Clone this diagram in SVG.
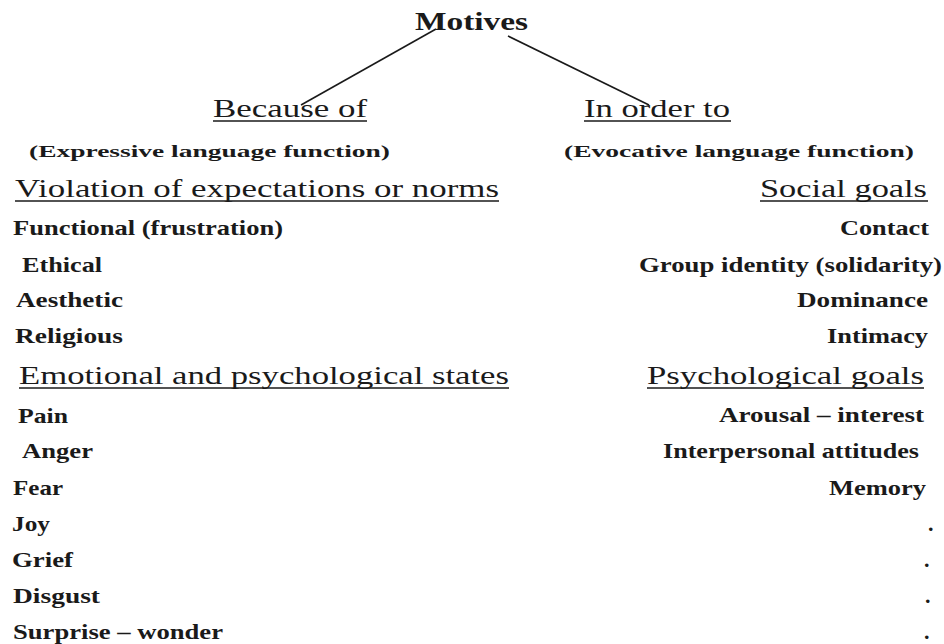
<svg xmlns="http://www.w3.org/2000/svg" width="944" height="644" viewBox="0 0 944 644">
<style>
text{font-family:"Liberation Serif","Times New Roman",serif;fill:#1a1a1a}
.t{font-size:26px}
.m{font-size:26px;font-weight:bold}
.h{font-size:26px}
.s{font-size:17px;font-weight:bold}
.i{font-size:22px;font-weight:bold}
.u{stroke:#1a1a1a;stroke-width:1.5}
.c{stroke:#1a1a1a;stroke-width:1.6;fill:none}
</style>
<rect width="944" height="644" fill="#ffffff"/>
<g id="connectors">
<line class="c" x1="436" y1="29" x2="301" y2="105"/>
<line class="c" x1="508" y1="36" x2="649" y2="105"/>
</g>
<g id="motives"><text class="m" x="415" y="30" textLength="113" lengthAdjust="spacingAndGlyphs">Motives</text></g>
<g id="because-of"><text class="t" x="213" y="117" textLength="154" lengthAdjust="spacingAndGlyphs">Because of</text><line class="u" x1="213" y1="121" x2="367" y2="121"/></g>
<g id="in-order-to"><text class="t" x="584" y="117" textLength="146" lengthAdjust="spacingAndGlyphs">In order to</text><line class="u" x1="584" y1="121" x2="731" y2="121"/></g>
<g id="expressive"><text class="s" x="29" y="157" textLength="361" lengthAdjust="spacingAndGlyphs">(Expressive language function)</text></g>
<g id="evocative"><text class="s" x="564" y="157" textLength="350" lengthAdjust="spacingAndGlyphs">(Evocative language function)</text></g>
<g id="violation"><text class="h" x="15" y="197" textLength="484" lengthAdjust="spacingAndGlyphs">Violation of expectations or norms</text><line class="u" x1="15" y1="201" x2="499" y2="201"/></g>
<g id="social-goals"><text class="h" x="760" y="197" textLength="167" lengthAdjust="spacingAndGlyphs">Social goals</text><line class="u" x1="760" y1="201" x2="928" y2="201"/></g>
<g id="functional"><text class="i" x="13" y="235" textLength="270" lengthAdjust="spacingAndGlyphs">Functional (frustration)</text></g>
<g id="ethical"><text class="i" x="22" y="272" textLength="80" lengthAdjust="spacingAndGlyphs">Ethical</text></g>
<g id="aesthetic"><text class="i" x="16" y="307" textLength="107" lengthAdjust="spacingAndGlyphs">Aesthetic</text></g>
<g id="religious"><text class="i" x="15" y="343" textLength="108" lengthAdjust="spacingAndGlyphs">Religious</text></g>
<g id="emotional"><text class="h" x="19" y="384" textLength="490" lengthAdjust="spacingAndGlyphs">Emotional and psychological states</text><line class="u" x1="19" y1="388" x2="509" y2="388"/></g>
<g id="pain"><text class="i" x="18" y="423" textLength="50" lengthAdjust="spacingAndGlyphs">Pain</text></g>
<g id="anger"><text class="i" x="22" y="458" textLength="71" lengthAdjust="spacingAndGlyphs">Anger</text></g>
<g id="fear"><text class="i" x="13" y="495" textLength="50" lengthAdjust="spacingAndGlyphs">Fear</text></g>
<g id="joy"><text class="i" x="12" y="531" textLength="38" lengthAdjust="spacingAndGlyphs">Joy</text></g>
<g id="grief"><text class="i" x="12" y="567" textLength="61" lengthAdjust="spacingAndGlyphs">Grief</text></g>
<g id="disgust"><text class="i" x="13" y="603" textLength="87" lengthAdjust="spacingAndGlyphs">Disgust</text></g>
<g id="surprise"><text class="i" x="13" y="639" textLength="210" lengthAdjust="spacingAndGlyphs">Surprise – wonder</text></g>
<g id="contact"><text class="i" x="840" y="235" textLength="89" lengthAdjust="spacingAndGlyphs">Contact</text></g>
<g id="group-identity"><text class="i" x="639" y="272" textLength="303" lengthAdjust="spacingAndGlyphs">Group identity (solidarity)</text></g>
<g id="dominance"><text class="i" x="797" y="307" textLength="131" lengthAdjust="spacingAndGlyphs">Dominance</text></g>
<g id="intimacy"><text class="i" x="827" y="343" textLength="101" lengthAdjust="spacingAndGlyphs">Intimacy</text></g>
<g id="psychological-goals"><text class="h" x="647" y="384" textLength="277" lengthAdjust="spacingAndGlyphs">Psychological goals</text><line class="u" x1="647" y1="388" x2="924" y2="388"/></g>
<g id="arousal"><text class="i" x="719" y="422" textLength="205" lengthAdjust="spacingAndGlyphs">Arousal – interest</text></g>
<g id="interpersonal"><text class="i" x="663" y="458" textLength="256" lengthAdjust="spacingAndGlyphs">Interpersonal attitudes</text></g>
<g id="memory"><text class="i" x="829" y="495" textLength="97" lengthAdjust="spacingAndGlyphs">Memory</text></g>
<g id="dot1"><text class="i" x="928" y="531">.</text></g>
<g id="dot2"><text class="i" x="924" y="567">.</text></g>
<g id="dot3"><text class="i" x="925" y="603">.</text></g>
<g id="dot4"><text class="i" x="924" y="639">.</text></g>
</svg>
